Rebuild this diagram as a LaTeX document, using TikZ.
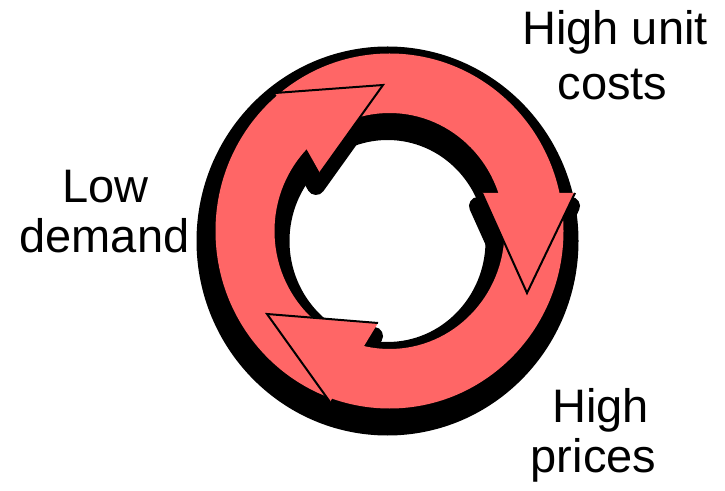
\documentclass[tikz,border=0pt]{standalone}
\usepackage{fontspec}
\setmainfont{Liberation Sans}
\definecolor{salmon}{RGB}{255,102,102}
\begin{document}
\begin{tikzpicture}[x=1pt,y=1pt,
  lbl/.style={font=\fontsize{47}{55}\selectfont, anchor=base, inner sep=0pt},
  ringshadow/.style={fill=black, draw=black, line width=34pt},
  headshadow/.style={fill=black, draw=black, line width=18pt, line join=round},
  headfill/.style={fill=salmon},
  headside/.style={draw=black, line width=2pt, line join=miter}
]
\useasboundingbox (0,0) rectangle (725,490);
\fill[white] (0,0) rectangle (725,490);
% ring centre and arrow-head vertices
\coordinate (O) at (389.5,259);
\coordinate (Atip) at (383,405);
\coordinate (Aout) at (275,397);
\coordinate (Ain)  at (320,317);
\coordinate (Btip) at (527,197);
\coordinate (Bout) at (575,297);
\coordinate (Bin)  at (482,297);
\coordinate (Ctip) at (267,176);
\coordinate (Cout) at (330,88);
\coordinate (Cin)  at (378,167);
% shadow of the ring
\begin{scope}[transform canvas={shift={(-2pt,-10pt)}}]
  \filldraw[ringshadow, even odd rule]
    (O) ellipse [x radius=174pt, y radius=177.5pt]
    (O) ellipse [x radius=115pt, y radius=118pt];
\end{scope}
% shadow of the heads
\begin{scope}[transform canvas={shift={(-4pt,-13pt)}}]
  \filldraw[headshadow] (Atip) -- (Aout) -- (Ain) -- cycle;
  \filldraw[headshadow] (Btip) -- (Bout) -- (Bin) -- cycle;
  \filldraw[headshadow] (Ctip) -- (Cout) -- (Cin) -- cycle;
\end{scope}
% ring bodies
\fill[salmon, even odd rule]
  (O) ellipse [x radius=174pt, y radius=177.5pt]
  (O) ellipse [x radius=115pt, y radius=118pt];
% heads
\fill[headfill] (Atip) -- (Aout) -- (Ain) -- cycle;
\fill[headfill] (Btip) -- (Bout) -- (Bin) -- cycle;
\fill[headfill] (Ctip) -- (Cout) -- (Cin) -- cycle;
\draw[headside] (Aout) -- (Atip) -- (Ain);
\draw[headside] (Bout) -- (Btip) -- (Bin);
\draw[headside] (Cout) -- (Ctip) -- (Cin);
% labels
\node[lbl] (hu) at (615,445) {High unit};
\node[lbl] (co) at (612.5,390) {costs};
\node[lbl] (lo) at (105.5,287) {Low};
\node[lbl] (de) at (104.5,237) {demand};
\node[lbl] (hi) at (600.5,67.3) {High};
\node[lbl] (pr) at (593.5,17.3) {prices};
\end{tikzpicture}
\end{document}
